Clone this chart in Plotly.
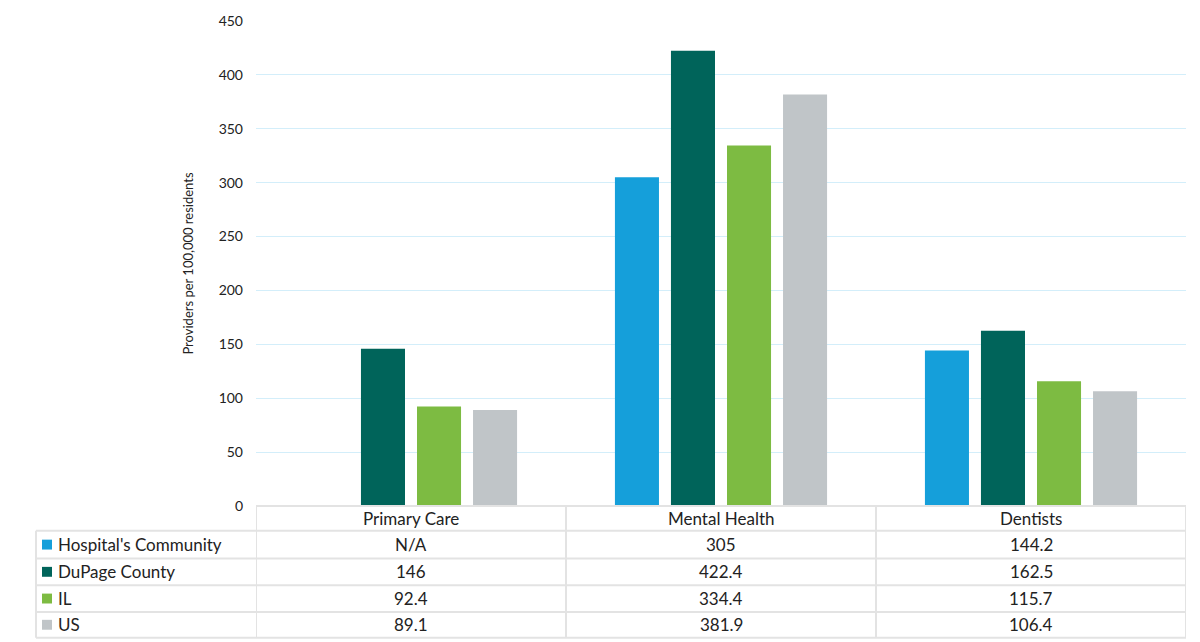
import plotly.graph_objects as go

categories = ["Primary Care", "Mental Health", "Dentists"]
series_names = ["Hospital's Community", "DuPage County", "IL", "US"]
hospital = [None, 305, 144.2]
dupage = [146, 422.4, 162.5]
il = [92.4, 334.4, 115.7]
us = [89.1, 381.9, 106.4]
series_values = [hospital, dupage, il, us]
colors = ["#159FDA", "#00645A", "#7DBB42", "#C0C5C8"]
y_ticks = [0, 50, 100, 150, 200, 250, 300, 350, 400, 450]

W, H = 1200, 642
ml, mr, mt, mb = 256, 14, 16, 136
pw, ph = W - ml - mr, H - mt - mb
FONT = "Lato, Open Sans, sans-serif"

fig = go.Figure()
for name, vals, col in zip(series_names, series_values, colors):
    fig.add_trace(go.Bar(x=list(range(len(categories))), y=vals, name=name,
                         marker=dict(color=col, line=dict(width=0)), showlegend=False))

def py(px):  # pixel y -> paper y
    return (H - mb - px) / ph

def pxx(px):  # pixel x -> paper x
    return (px - ml) / pw

grid_col = "#E3E3E3"
row_edges = [506, 531, 559, 586, 613, 639]
shapes = []
shapes.append(dict(type="line", xref="x", yref="paper", x0=-0.5, x1=2.5,
                   y0=py(row_edges[0]), y1=py(row_edges[0]), line=dict(color=grid_col, width=2)))
for e in row_edges[1:]:
    shapes.append(dict(type="line", xref="paper", yref="paper", x0=pxx(36), x1=1,
                       y0=py(e), y1=py(e), line=dict(color=grid_col, width=2)))
shapes.append(dict(type="line", xref="paper", yref="paper", x0=pxx(36), x1=pxx(36),
                   y0=py(row_edges[1]), y1=py(row_edges[-1]), line=dict(color=grid_col, width=2)))
for b in [-0.5, 0.5, 1.5, 2.5]:
    shapes.append(dict(type="line", xref="x", yref="paper", x0=b, x1=b,
                       y0=py(row_edges[0]), y1=py(row_edges[-1]), line=dict(color=grid_col, width=2)))

annotations = []
tfont = dict(family=FONT, size=17, color="#222222")
for i, c in enumerate(categories):
    annotations.append(dict(x=i, y=py((row_edges[0] + row_edges[1]) / 2), xref="x", yref="paper",
                            text=c, showarrow=False, font=tfont, xanchor="center", yanchor="middle"))
for r, (name, vals, col) in enumerate(zip(series_names, series_values, colors)):
    yc = (row_edges[r + 1] + row_edges[r + 2]) / 2
    shapes.append(dict(type="rect", xref="paper", yref="paper", x0=pxx(42), x1=pxx(52),
                       y0=py(yc + 5), y1=py(yc - 5), fillcolor=col, line=dict(width=0)))
    annotations.append(dict(x=pxx(56), y=py(yc), xref="paper", yref="paper", text=name,
                            showarrow=False, font=tfont, xanchor="left", yanchor="middle"))
    for i, v in enumerate(vals):
        txt = "N/A" if v is None else f"{v:g}"
        annotations.append(dict(x=i, y=py(yc), xref="x", yref="paper", text=txt,
                                showarrow=False, font=tfont, xanchor="center", yanchor="middle"))

fig.update_layout(
    width=W, height=H,
    margin=dict(l=ml, r=mr, t=mt, b=mb),
    plot_bgcolor="white", paper_bgcolor="white",
    barmode="group", bargap=0.277, bargroupgap=0.214,
    font=dict(family=FONT, color="#222222"),
    xaxis=dict(range=[-0.5, 2.5], showticklabels=False, showgrid=False, zeroline=False,
               showline=False, fixedrange=True),
    yaxis=dict(range=[0, 450], tickvals=y_ticks, showgrid=True, gridcolor="#D3EEFA", gridwidth=1,
               zeroline=False, showline=False, ticks="", tickfont=dict(size=14, color="#222222"),
               ticklabelstandoff=12,
               title=dict(text="Providers per 100,000 residents", font=dict(size=13, color="#222222"),
                          standoff=22)),
    shapes=shapes, annotations=annotations,
)
fig.write_html("out.html")
